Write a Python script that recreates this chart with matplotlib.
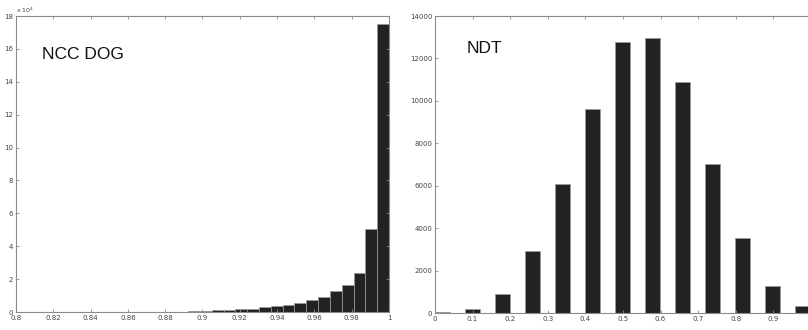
import numpy as np
import matplotlib
matplotlib.use('Agg')
import matplotlib.pyplot as plt
from matplotlib.ticker import FuncFormatter

# NCC DOG histogram: 30 bins between 0.81 and 1, counts in units of 1e4
ncc_lo, ncc_hi, ncc_nbins = 0.81, 1.0, 30
ncc_counts = [0.002, 0.002, 0.003, 0.003, 0.004, 0.005, 0.006, 0.008, 0.010, 0.012,
              0.015, 0.02, 0.03, 0.05, 0.08, 0.10, 0.14, 0.17, 0.21, 0.29,
              0.36, 0.41, 0.55, 0.71, 0.93, 1.29, 1.64, 2.39, 5.06, 17.53]

# NDT histogram
ndt_centers = [0.02, 0.0997, 0.1794, 0.2591, 0.3388, 0.4185, 0.4982, 0.5779,
               0.6576, 0.7373, 0.8170, 0.8967, 0.9764]
ndt_counts = [50, 200, 900, 2930, 6070, 9620, 12760, 12940, 10900, 7030, 3550, 1290, 310]

bar_col = '#222222'
edge_col = '#9a9a9a'
axis_col = '#8a8a8a'
txt_col = '#444444'

fig = plt.figure(figsize=(8.08, 3.30), dpi=100)
ax1 = fig.add_axes([0.0198, 0.0545, 0.4616, 0.897])
ax2 = fig.add_axes([0.5384, 0.0515, 0.4653, 0.900])


def style(ax):
    for s in ax.spines.values():
        s.set_color(axis_col)
        s.set_linewidth(0.8)
    ax.tick_params(direction='in', length=2.5, width=0.6, color=axis_col,
                   labelsize=5, labelcolor=txt_col, top=True, right=True, pad=2)


# left panel
w = (ncc_hi - ncc_lo) / ncc_nbins
edges = ncc_lo + w * np.arange(ncc_nbins)
ax1.bar(edges, ncc_counts, width=w, align='edge', color=bar_col,
        edgecolor=edge_col, linewidth=0.5)
ax1.set_xlim(0.8, 1.0)
ax1.set_ylim(0, 18)
ax1.set_xticks(np.arange(0.8, 1.001, 0.02))
ax1.xaxis.set_major_formatter(FuncFormatter(lambda v, p: f'{v:.2f}'.rstrip('0').rstrip('.')))
ax1.set_yticks(range(0, 19, 2))
style(ax1)
ax1.text(0.0, 1.003, r'x 10$^4$', transform=ax1.transAxes, fontsize=4.5,
         color=txt_col, ha='left', va='bottom')
ax1.text(0.07, 0.855, 'NCC DOG', transform=ax1.transAxes, fontsize=12.5,
         family='Liberation Sans', color='#111111')

# right panel
ax2.bar(ndt_centers, ndt_counts, width=0.04, color=bar_col,
        edgecolor=edge_col, linewidth=0.6)
ax2.set_xlim(0, 1.0)
ax2.set_ylim(0, 14000)
ax2.set_xticks(np.arange(0, 0.95, 0.1))
ax2.xaxis.set_major_formatter(FuncFormatter(lambda v, p: f'{v:.1f}'.rstrip('0').rstrip('.')))
ax2.set_yticks(range(0, 14001, 2000))
style(ax2)
ax2.text(0.085, 0.875, 'NDT', transform=ax2.transAxes, fontsize=12.5,
         family='Liberation Sans', color='#111111')

fig.savefig('out.png', dpi=100)
